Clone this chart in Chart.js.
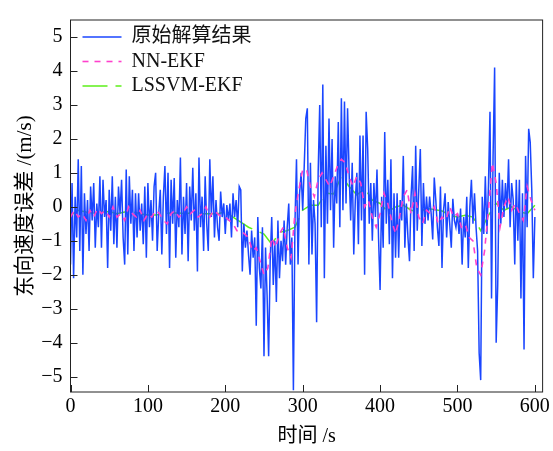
<!DOCTYPE html>
<html lang="zh">
<head>
<meta charset="utf-8">
<title>东向速度误差</title>
<script src="https://cdn.jsdelivr.net/npm/chart.js@4.4.0/dist/chart.umd.min.js"></script>
<style>
  html, body { margin: 0; padding: 0; background: #fff; }
  canvas { display: block; }
</style>
</head>
<body>
<canvas id="chart-velocity" width="553" height="451"></canvas>
<script>
// raw solution, one value every 2 s (0 .. 600 s)
const rawStep = 2;
const rawValues = [
  -1.7, 0.7, -2.1, 0.3, -0.9, 1.4, -1.3, 1.2, -2.0, 0.4,      // 0
  -0.8, 0.2, -1.3, 0.6, -0.4, 0.7, -1.2, 0.1, -0.6, 0.9,      // 20
  -1.2, 0.8, -0.3, 0.2, -1.8, 0.5, -0.7, 0.9, -1.1, 0.3,      // 40
  -1.2, 0.6, -0.2, 0.8, -0.9, -1.7, 1.1, -1.4, 0.9, -0.5,     // 60
  0.5, -1.3, 0.4, -0.9, 0.4, -0.7, 0.1, -1.1, 0.6, -1.5,      // 80
  0.7, -0.6, 0.2, -1.0, 0.6, 1.0, -1.3, -0.2, 0.5, -1.4,      // 100
  0.3, 1.2, -0.8, 1.0, -1.8, 0.8, -0.5, 0.85, -1.5, 0.2,      // 120
  -0.6, 1.45, -1.4, 0.3, -0.8, 0.7, -1.6, 0.6, -0.4, 1.15,    // 140
  -0.7, 0.4, -1.9, 1.45, -0.6, 0.3, -1.3, 0.9, -0.5, -1.3,    // 160
  1.4, -0.3, 0.9, -0.9, 0.2, -0.6, -1.0, 0.45, -0.3, 0.1,     // 180
  -0.8, 0.05, -0.4, 0.1, -0.9, 0.4, -0.3, 0.2, -0.6, 0.6,     // 200
  0.5, -1.9, -0.5, -1.2, -0.7, -1.4, -2.0, -0.7, -1.5, -0.9,  // 220
  -3.5, -0.3, -1.8, -2.4, -0.6, -4.4, -1.2, -2.6, -4.4, -1.6, // 240
  -0.3, -2.3, -1.0, -2.8, -0.4, -2.1, -1.0, -1.6, -0.4, -1.7, // 260
  -0.6, 0.1, -1.7, -0.9, -5.4, -0.5, 1.4, -1.7, 0.4, 1.0,     // 280
  -0.1, 1.2, 2.6, 2.9, -1.7, 1.3, -1.4, 0.2, -0.5, -3.4,      // 300
  1.0, 3.0, -0.6, 3.6, -2.1, 1.8, -0.5, 2.6, -0.1, 2.0,       // 320
  -1.2, 0.9, 0.1, 2.5, -0.6, 3.2, -0.1, 3.1, 0.1, 2.9,        // 340
  1.0, -0.4, 1.3, -1.4, 0.2, 1.0, -1.1, 2.1, -0.4, 2.1,       // 360
  -2.0, 2.8, 1.7, -0.5, 0.7, -1.0, 0.7, -0.3, 1.1, -0.9,      // 380
  -2.45, 0.3, -1.2, 2.2, -0.5, 0.8, -1.1, 1.4, -2.1, 0.4,     // 400
  -1.5, 0.4, -1.5, 0.2, -0.4, 1.5, -1.2, 0.1, -0.9, -1.6,     // 420
  0.3, 1.2, -1.3, 1.8, -0.7, 0.5, 1.7, -1.15, 0.7, -0.5,      // 440
  0.3, -0.4, 0.3, -0.2, -0.96, 0.86, 0.2, -0.6, -1.15, 0.6,   // 460
  -1.8, -0.1, 0.4, -0.9, 0.14, -0.5, -1.2, 0.24, -0.4, -0.6,  // 480
  -0.2, -0.8, -0.05, -1.7, -0.3, -0.9, 0.3, -1.8, 0.0, 0.8,   // 500
  -0.5, 0.4, -0.6, -1.3, -4.3, -5.1, 0.3, -0.8, 0.9, -0.8,    // 520
  0.6, 2.8, -2.7, 1.5, 4.1, -4.0, -2.3, 1.0, -0.5, 0.8,       // 540
  -0.3, 0.7, -0.05, 1.4, -0.6, 0.7, 0.2, -1.7, 0.8, -1.0,     // 560
  0.8, -2.7, 0.4, -4.2, 1.5, -0.6, 2.3, 1.9, 0.5, -2.1,       // 580
  -0.3                                                         // 600
];

// NN-EKF, one value every 5 s
const nnStep = 5;
const nnValues = [
  -0.3, -0.1, -0.3, -0.2, -0.4, -0.1, -0.3, -0.05, -0.2, -0.1, // 0
  -0.3, 0.0, -0.3, -0.2, -0.4, 0.0, -0.2, -0.3, -0.1, -0.4,    // 50
  -0.2, -0.3, -0.1, -0.2, -0.4, -0.5, -0.2, -0.1, -0.3, -0.2,  // 100
  0.0, -0.2, -0.1, -0.3, -0.2, 0.0, -0.3, -0.1, -0.2, -0.3,    // 150
  -0.3, -0.4, -0.5, -0.7, -0.7, -0.8, -0.9, -1.3, -1.2, -1.6,  // 200
  -2.0, -1.8, -0.9, -1.2, -0.8, -0.6, -1.2, -1.5, -0.2, 0.5,   // 250
  1.1, 1.1, 0.6, 0.3, 0.8, 1.0, 0.8, 0.6, 0.9, 1.2,            // 300
  1.4, 1.3, 0.9, 0.6, 0.9, 0.7, 0.0, 0.2, -0.3, -0.6,          // 350
  -0.2, 0.4, 0.1, -0.4, -0.8, -0.3, 0.3, 0.5, -0.2, 0.4,       // 400
  -0.3, -0.5, -0.1, -0.2, 0.0, -0.5, -0.3, -0.4, 0.0, -0.3,    // 450
  -0.2, -0.6, -0.5, -0.9, -1.0, -1.8, -2.0, -1.3, -0.1, 1.3,   // 500
  0.7, -0.6, 0.0, 0.3, -0.1, 0.1, -0.2, -0.4, 0.6, 0.2,        // 550
  -0.1                                                          // 600
];

// LSSVM-EKF, one value every 10 s
const lssvmStep = 10;
const lssvmValues = [
  -0.25, -0.1, -0.15, -0.18, -0.15, -0.14, -0.2, -0.15, -0.15, -0.2, // 0
  -0.24, -0.24, -0.2, -0.18, -0.18, -0.2, -0.15, -0.2, -0.2, -0.2,   // 100
  -0.15, -0.3, -0.45, -0.6, -0.7, -0.8, -1.1, -0.75, -0.7, -0.6,     // 200
  -0.1, 0.05, 0.05, 0.4, 0.38, 0.9, 0.6, 0.35, 0.55, 0.2,            // 300
  0.1, -0.15, 0.0, 0.05, -0.1, -0.15, -0.05, -0.08, -0.12, -0.25,    // 400
  -0.3, -0.25, -0.3, -0.7, -0.25, 0.1, -0.1, 0.0, -0.15, -0.2,       // 500
  0.05                                                                // 600
];

const seriesLabels = ['原始解算结果', 'NN-EKF', 'LSSVM-EKF'];
const xTicks = [0, 100, 200, 300, 400, 500, 600];
const yTicks = [-5, -4, -3, -2, -1, 0, 1, 2, 3, 4, 5];

const serif = '"Liberation Serif", "Noto Sans CJK SC", serif';
const toPoints = (values, step) => values.map((v, i) => ({ x: i * step, y: v }));
const fmt = v => (v < 0 ? '\u2212' + Math.abs(v) : String(v));

// frame + inward ticks, then the legend inside the axes
const axesDecor = {
  id: 'axesDecor',
  afterDraw(chart) {
    const { ctx, chartArea: a, scales } = chart;
    ctx.save();
    ctx.strokeStyle = '#222';
    ctx.lineWidth = 1;
    ctx.strokeRect(a.left, a.top, a.right - a.left, a.bottom - a.top);
    ctx.beginPath();
    xTicks.forEach(t => {
      const px = Math.round(scales.x.getPixelForValue(t)) + 0.5;
      ctx.moveTo(px, a.bottom);
      ctx.lineTo(px, a.bottom - 7);
    });
    yTicks.forEach(t => {
      const py = Math.round(scales.y.getPixelForValue(t)) + 0.5;
      ctx.moveTo(a.left, py);
      ctx.lineTo(a.left + 7, py);
    });
    ctx.stroke();

    const x0 = a.left + 12;
    const y0 = a.top + 17;
    seriesLabels.forEach((label, i) => {
      const ds = chart.data.datasets[i];
      const y = y0 + i * 24.5;
      ctx.strokeStyle = ds.borderColor;
      ctx.lineWidth = ds.borderWidth;
      ctx.setLineDash(ds.borderDash || []);
      ctx.beginPath();
      ctx.moveTo(x0, y);
      ctx.lineTo(x0 + 39, y);
      ctx.stroke();
      ctx.setLineDash([]);
      ctx.fillStyle = '#111';
      ctx.font = '20px ' + serif;
      ctx.textBaseline = 'middle';
      ctx.fillText(label, x0 + 49, y);
    });
    ctx.restore();
  }
};

new Chart(document.getElementById('chart-velocity'), {
  type: 'line',
  data: {
    datasets: [
      {
        label: seriesLabels[0],
        data: toPoints(rawValues, rawStep),
        borderColor: '#1a46ff',
        borderWidth: 1.5,
        order: 2
      },
      {
        label: seriesLabels[1],
        data: toPoints(nnValues, nnStep),
        borderColor: '#ff40cc',
        borderWidth: 1.6,
        borderDash: [6, 6],
        order: 1
      },
      {
        // sits under the raw trace, so only the gaps show it
        label: seriesLabels[2],
        data: toPoints(lssvmValues, lssvmStep),
        borderColor: '#5ef01a',
        borderWidth: 1.5,
        borderDash: [25, 8],
        order: 3
      }
    ]
  },
  options: {
    responsive: false,
    animation: false,
    devicePixelRatio: 1,
    layout: { padding: { left: 0, top: 12, right: 8, bottom: 0 } },
    elements: { point: { radius: 0 }, line: { tension: 0 } },
    plugins: { legend: { display: false }, tooltip: { enabled: false } },
    scales: {
      x: {
        type: 'linear',
        min: 0,
        max: 610,
        afterBuildTicks: s => { s.ticks = xTicks.map(v => ({ value: v })); },
        afterFit: s => { s.height = 59; },
        grid: { display: false, drawTicks: false },
        border: { display: false },
        ticks: { padding: 3, color: '#000', font: { family: serif, size: 20 }, callback: fmt, maxRotation: 0 },
        title: { display: true, text: '时间 /s', color: '#000', font: { family: serif, size: 20 }, padding: { top: 0, bottom: 2 } }
      },
      y: {
        type: 'linear',
        min: -5.45,
        max: 5.5,
        afterBuildTicks: s => { s.ticks = yTicks.map(v => ({ value: v })); },
        afterFit: s => { s.width = 70.5; },
        grid: { display: false, drawTicks: false },
        border: { display: false },
        ticks: { padding: 8, color: '#000', font: { family: serif, size: 20 }, callback: fmt },
        title: { display: true, text: '东向速度误差 /(m/s)', color: '#000', font: { family: serif, size: 21 }, padding: { top: 13, bottom: 0 } }
      }
    }
  },
  plugins: [axesDecor]
});
</script>
</body>
</html>
